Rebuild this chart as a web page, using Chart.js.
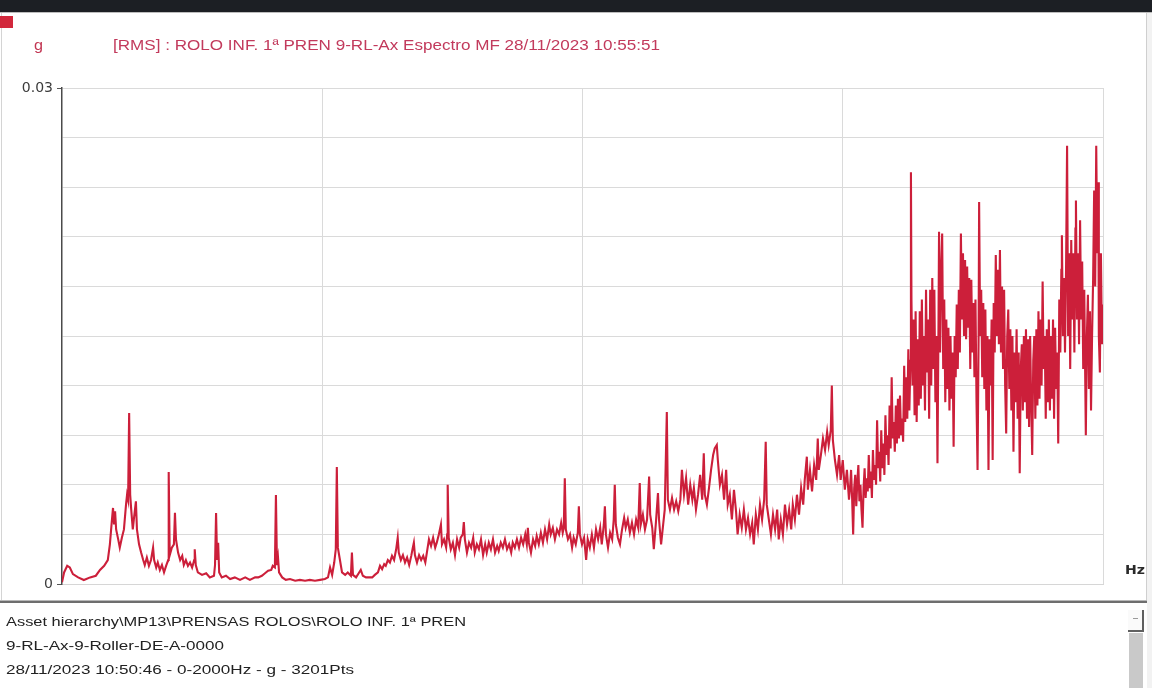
<!DOCTYPE html>
<html>
<head>
<meta charset="utf-8">
<script src="https://cdn.jsdelivr.net/npm/chart.js@4.4.0/dist/chart.umd.min.js"></script>
<style>
  html,body{margin:0;padding:0;}
  body{width:1152px;height:688px;position:relative;overflow:hidden;background:#ffffff;font-family:"Liberation Sans",Arial,sans-serif;}
  .abs{position:absolute;}
  .txt{position:absolute;white-space:nowrap;line-height:16px;font-size:13px;transform-origin:0 50%;}
  #chartWrap{position:absolute;left:0;top:0;width:1152px;height:688px;}
</style>
</head>
<body>
<div class="abs" style="left:0;top:0;width:1152px;height:12px;background:#1c1f24;"></div>
<div class="abs" style="left:0;top:12px;width:1152px;height:1px;background:#bdbdbd;"></div>
<div class="abs" style="left:1px;top:13px;width:1px;height:588px;background:#d4d4d4;"></div>
<div class="abs" style="left:0;top:16px;width:13px;height:12px;background:#d2283c;"></div>
<div class="abs" style="left:1146px;top:13px;width:1px;height:588px;background:#cfcfcf;"></div>
<div class="abs" style="left:1147px;top:13px;width:5px;height:675px;background:#f2f2f2;"></div>
<div class="abs" style="left:0;top:600px;width:1147px;height:1px;background:#b8b8b8;"></div>
<div class="abs" style="left:0;top:601px;width:1147px;height:2px;background:#6e6e6e;"></div>
<div class="abs" style="left:1128px;top:610px;width:16px;height:22px;box-sizing:border-box;border-right:2px solid #606060;border-bottom:2px solid #606060;background:#fafafa;"></div>
<div class="abs" style="left:1133px;top:618px;width:5px;height:1px;background:#9a9a9a;"></div>
<div class="abs" style="left:1129px;top:633px;width:14px;height:55px;background:#c9c9c9;"></div>

<div id="chartWrap"><canvas id="c" width="1152" height="688"></canvas></div>

<div class="txt" style="left:34px;top:37px;color:#c23552;font-size:14px;" data-w="9">g</div>
<div class="txt" style="left:113px;top:37px;color:#c23a5c;font-size:14px;" data-w="547">[RMS] : ROLO INF. 1ª PREN 9-RL-Ax Espectro MF 28/11/2023 10:55:51</div>
<div class="txt" style="left:1125px;top:562px;color:#2a2a2a;font-family:'DejaVu Sans';font-weight:bold;" data-w="20">Hz</div>
<div class="txt" style="left:6px;top:614px;color:#222222;" data-w="460">Asset hierarchy\MP13\PRENSAS ROLOS\ROLO INF. 1ª PREN</div>
<div class="txt" style="left:6px;top:638px;color:#222222;" data-w="218">9-RL-Ax-9-Roller-DE-A-0000</div>
<div class="txt" style="left:6px;top:662px;color:#222222;" data-w="348">28/11/2023 10:50:46 - 0-2000Hz - g - 3201Pts</div>

<script>
// ---- data ----
const xRangeHz = [0, 2000];
const yRangeG = [0, 0.03];
const yTickLabels = ['0', '0.03'];

const freqHz = [
  0,4,10,15,21,31,42,54,65,73,
  81,88,92,96,98,100,102,104,108,111,
  115,119,123,125,127,129,131,133,136,138,
  142,144,148,152,156,159,163,167,171,175,
  177,181,184,188,192,196,200,204,205,207,
  211,215,217,219,223,227,231,234,238,242,
  246,250,254,255,257,261,269,277,284,292,
  294,296,298,300,302,307,315,323,332,342,
  352,361,371,377,384,390,396,402,405,409,
  411,413,415,417,423,430,438,448,457,467,
  476,486,496,505,
  511,515,519,523,526,528,530,534,538,544,
  549,555,557,559,565,570,574,578,584,590,
  596,601,607,611,615,619,622,626,630,634,
  638,642,645,647,651,655,659,663,667,671,
  674,676,678,682,686,690,694,698,701,705,
  709,713,717,720,724,728,730,734,738,740,
  741,743,747,751,755,759,763,766,770,772,
  774,778,782,786,790,793,797,801,805,809,
  813,816,820,824,828,832,836,839,843,847,
  851,855,859,863,866,870,874,878,882,886,
  890,893,895,897,901,905,909,912,916,920,
  924,928,932,936,939,943,947,951,955,959,
  962,964,966,968,972,976,980,983,987,991,
  993,995,999,1003,1007,1010,1014,
  1018,1022,1026,1030,1034,1037,1041,1043,1045,1049,
  1053,1057,1060,1062,1064,1068,1072,1076,1080,1083,
  1087,1091,1095,1099,1103,1107,1110,1112,1116,1120,
  1124,1128,1130,1134,1137,1141,1145,1147,1151,1155,
  1158,1162,1164,1168,1172,1176,1180,1184,1188,1191,
  1195,1199,1203,1207,1211,1214,1218,1222,1226,1230,
  1233,1235,1239,1243,1247,1251,1254,1258,1260,1264,
  1268,1272,1276,1279,1283,1287,1291,1295,1298,1302,
  1306,1310,1314,1318,1322,1326,1329,1333,1337,1341,
  1345,1349,1352,1354,1358,1362,1366,1370,1374,1377,
  1381,1385,1389,1393,1397,1401,1404,1408,1412,1416,
  1420,1424,1427,1431,1433,1437,1441,1445,1449,1452,
  1454,1458,1462,1466,1470,1473,1477,1479,1481,1485,
  1489,1493,1496,1500,1504,1508,1512,
  1514,1516,1518,1520,1522,1524,1526,1528,1530,1532,
  1534,1536,1538,1540,1542,1544,1546,1548,1550,1552,
  1554,1556,1558,1560,1562,1564,1566,1568,1570,1572,
  1574,1576,1578,1580,1582,1584,1586,1588,1590,1592,
  1594,1596,1598,1600,1602,1604,1606,1608,1610,1612,
  1614,1616,1618,1620,1622,1624,1626,1628,1630,1631,
  1632,1634,1636,1638,1640,1642,1644,1646,1648,1650,
  1652,1654,1656,1658,1660,1662,1664,1666,1668,1670,
  1672,1674,1676,1678,1680,1682,1684,1685,1687,1689,
  1691,1693,1695,1697,1699,1701,1703,1705,1707,1709,
  1711,1713,1715,1717,1719,1721,1723,1725,1727,1729,
  1731,1733,1735,1737,1739,1741,1743,1745,1747,1749,
  1751,1753,1755,1757,1759,1761,1762,1764,1766,1768,
  1770,1772,1774,1776,1778,1780,1782,1784,1786,1788,
  1790,1792,1794,1796,1798,1800,1802,1804,1806,1808,
  1810,1812,1814,1816,1818,1820,1822,1824,1826,1828,
  1830,1832,1834,1836,1838,1840,1842,1844,1846,1848,
  1850,1852,1854,1856,1858,1860,1862,1864,1866,1868,
  1870,1872,1874,1876,1878,1880,1882,1884,1886,1888,
  1890,1892,1894,1896,1898,1900,1902,1904,1906,1908,
  1910,1912,1914,1916,1918,1920,1921,1923,1925,1927,
  1929,1931,1933,1935,1937,1939,1941,1943,1945,1947,
  1948,1950,1952,1954,1956,1958,1960,1962,1964,1966,
  1967,1969,1971,1973,1975,1977,1979,1981,1983,1985,
  1987,1989,1991,1992,1994,1996,1998,2000
];

const ampG = [
  0.0001,0.0007,0.0011,0.0010,0.0006,0.0004,0.00024,0.0004,0.0005,0.00085,
  0.0011,0.00145,0.0024,0.0039,0.0046,0.0036,0.0044,0.0033,0.0027,0.0022,
  0.0028,0.0033,0.0048,0.0054,0.0051,0.01034,0.0054,0.0045,0.0033,0.0039,
  0.0050,0.0033,0.0024,0.0019,0.00145,0.00115,0.0016,0.0011,0.00145,0.0022,
  0.00145,0.001,0.0013,0.00085,0.00115,0.0007,0.0011,0.00145,0.00677,0.00175,
  0.0022,0.0024,0.0043,0.0027,0.0019,0.00145,0.0017,0.00115,0.00145,0.0011,
  0.0013,0.001,0.00145,0.0021,0.00115,0.0007,0.00055,0.00065,0.0004,0.0005,
  0.00115,0.0043,0.00145,0.0025,0.0007,0.0004,0.0005,0.0003,0.0004,0.00025,
  0.0004,0.00025,0.0004,0.0004,0.0005,0.00065,0.0008,0.00085,0.0011,0.001,
  0.00538,0.00115,0.0016,0.0007,0.0004,0.00025,0.0003,0.0002,0.00025,0.0002,
  0.00025,0.0002,0.00025,0.0003,
  0.0004,0.001,0.00055,0.0013,0.0021,0.00708,0.0022,0.00145,0.0007,0.00055,
  0.0007,0.0005,0.0019,0.00055,0.0004,0.00065,0.00085,0.0005,0.0004,0.0004,
  0.0004,0.00055,0.0007,0.0011,0.0009,0.0012,0.0011,0.00145,0.0013,0.0017,
  0.00145,0.0021,0.0028,0.0019,0.00145,0.00175,0.0013,0.0016,0.00115,0.0017,
  0.0022,0.0025,0.00175,0.0013,0.00175,0.00145,0.0017,0.0013,0.0019,0.0027,
  0.0023,0.0028,0.0022,0.0025,0.003,0.0036,0.0024,0.0027,0.0022,0.003,
  0.006,0.0028,0.0021,0.0025,0.00175,0.0027,0.0022,0.0028,0.003,0.00375,
  0.0027,0.0019,0.0025,0.0022,0.0028,0.0019,0.0024,0.0021,0.0027,0.00175,
  0.0024,0.0019,0.0025,0.0021,0.0027,0.0019,0.0023,0.002,0.0025,0.0022,
  0.0027,0.0021,0.0024,0.0019,0.0025,0.0022,0.0027,0.0022,0.0028,0.0024,
  0.003,0.0024,0.0034,0.0025,0.0019,0.0027,0.0023,0.0029,0.0024,0.0031,
  0.0025,0.0033,0.0027,0.0036,0.003,0.0034,0.0027,0.0033,0.003,0.0037,
  0.0031,0.0034,0.0064,0.0033,0.0027,0.003,0.0022,0.0028,0.0024,0.0031,
  0.0047,0.003,0.0024,0.0028,0.00145,0.0027,0.0022,
  0.003,0.0022,0.0033,0.0027,0.0034,0.0024,0.0036,0.0047,0.003,0.0022,
  0.0031,0.0027,0.0039,0.006,0.0036,0.0028,0.0024,0.0033,0.004,0.0034,
  0.0039,0.0031,0.0037,0.003,0.0039,0.0034,0.0061,0.0036,0.0042,0.0033,
  0.0039,0.0065,0.0042,0.0034,0.0021,0.0037,0.0055,0.0039,0.0024,0.0036,
  0.0045,0.0104,0.0051,0.0045,0.0052,0.0045,0.005,0.0044,0.0051,0.0069,
  0.0054,0.0064,0.0048,0.006,0.0051,0.0058,0.0045,0.0054,0.0066,0.0051,
  0.0079,0.0054,0.0048,0.0058,0.0069,0.0078,0.0082,0.0084,0.0075,0.006,
  0.0066,0.0051,0.0069,0.0048,0.0054,0.0039,0.0057,0.0044,0.003,0.0042,
  0.0034,0.0045,0.0033,0.004,0.003,0.0037,0.0024,0.0042,0.0033,0.0048,
  0.0039,0.0051,0.0086,0.0048,0.0039,0.003,0.0042,0.0033,0.0045,0.0027,
  0.0039,0.003,0.0048,0.0036,0.0045,0.0033,0.0048,0.0039,0.0054,0.0042,
  0.0058,0.0048,0.0063,0.0077,0.0057,0.0069,0.0056,0.0072,0.0063,0.0088,
  0.0069,0.0078,0.0088,0.0081,0.0092,0.0084,0.0093,0.012,0.0087,0.0075,
  0.0066,0.0078,0.0063,0.0075,0.0057,0.0069,0.0051,
  0.0058,0.0069,0.0052,0.003,0.0058,0.0066,0.0047,0.0062,0.0072,0.005,
  0.006,0.0045,0.0034,0.0058,0.007,0.0052,0.0064,0.0056,0.0078,0.0058,
  0.0068,0.0052,0.0081,0.0063,0.0072,0.006,0.0099,0.007,0.008,0.0062,
  0.0093,0.007,0.0085,0.0066,0.0102,0.0078,0.009,0.0072,0.0108,0.0082,
  0.0125,0.0088,0.0098,0.008,0.0108,0.0085,0.0112,0.0088,0.0114,0.009,
  0.01,0.0086,0.0132,0.0098,0.0125,0.01,0.0142,0.0105,0.0135,0.0249,
  0.0172,0.012,0.016,0.0102,0.0165,0.0098,0.0148,0.0108,0.0165,0.0112,
  0.0172,0.012,0.015,0.0105,0.0178,0.0128,0.016,0.01,0.0178,0.012,
  0.0185,0.013,0.0178,0.011,0.015,0.0073,0.016,0.0213,0.014,0.019,
  0.0212,0.013,0.0172,0.011,0.016,0.0118,0.0155,0.0105,0.015,0.0112,
  0.014,0.0083,0.015,0.0125,0.0169,0.013,0.0178,0.014,0.0212,0.016,
  0.02,0.015,0.0196,0.0148,0.0192,0.0155,0.0185,0.013,0.0184,0.014,
  0.017,0.0125,0.0172,0.011,0.0069,0.015,0.0231,0.015,0.0178,0.0125,
  0.017,0.0118,0.0166,0.0105,0.015,0.0069,0.0148,0.012,0.016,0.0075,
  0.017,0.014,0.0199,0.015,0.019,0.0145,0.0202,0.014,0.018,0.013,
  0.0178,0.012,0.0091,0.015,0.0166,0.0118,0.0154,0.0105,0.015,0.008,
  0.014,0.011,0.0154,0.01,0.014,0.0067,0.013,0.0145,0.0105,0.015,
  0.011,0.0154,0.01,0.0148,0.0095,0.015,0.011,0.0078,0.0135,0.015,
  0.01,0.0154,0.0108,0.0165,0.0112,0.016,0.012,0.0183,0.013,0.015,
  0.01,0.0154,0.011,0.016,0.0105,0.015,0.0112,0.016,0.01,0.0155,
  0.0118,0.014,0.0085,0.0172,0.014,0.019,0.0211,0.015,0.0185,0.014,
  0.019,0.0265,0.015,0.02,0.013,0.0208,0.016,0.02,0.014,0.0215,
  0.0232,0.016,0.02,0.0145,0.022,0.016,0.0195,0.013,0.0178,0.012,
  0.009,0.015,0.0175,0.0118,0.0165,0.0105,0.015,0.0184,0.0238,0.018,
  0.0265,0.02,0.0243,0.015,0.0128,0.02,0.0145,0.0169
];

const points = freqHz.map((f, i) => ({ x: f, y: ampG[i] }));

new Chart(document.getElementById('c'), {
  type: 'line',
  data: {
    datasets: [{
      data: points,
      borderColor: '#cc1f3a',
      borderWidth: 2.1,
      pointRadius: 0,
      tension: 0,
      fill: false
    }]
  },
  options: {
    responsive: false,
    animation: false,
    devicePixelRatio: 1,
    layout: { padding: { left: 0, top: 88, right: 49, bottom: 104 } },
    plugins: { legend: { display: false }, tooltip: { enabled: false }, title: { display: false } },
    scales: {
      x: {
        type: 'linear',
        min: xRangeHz[0], max: xRangeHz[1],
        ticks: { display: false, stepSize: 500 },
        grid: {
          drawTicks: false,
          color: (c) => (c.tick && c.tick.value === 0) ? 'rgba(0,0,0,0)' : '#dadada',
          lineWidth: 1
        },
        border: { color: '#d6d6d6', width: 1 },
        afterFit: (s) => { s.height = 0; }
      },
      y: {
        min: yRangeG[0], max: yRangeG[1],
        ticks: {
          stepSize: 0.003,
          autoSkip: false,
          padding: 4,
          color: '#3c3c3c',
          font: { family: 'DejaVu Sans', size: 14 },
          callback: (v) => {
            if (Math.abs(v - yRangeG[0]) < 1e-9) return yTickLabels[0];
            if (Math.abs(v - yRangeG[1]) < 1e-9) return yTickLabels[1];
            return '';
          }
        },
        grid: {
          color: '#dadada',
          tickLength: 5,
          tickColor: (c) => {
            const v = c.tick ? c.tick.value : null;
            return (v !== null && (Math.abs(v) < 1e-9 || Math.abs(v - 0.03) < 1e-9)) ? '#555555' : 'rgba(0,0,0,0)';
          }
        },
        border: { color: '#4a4a4a', width: 1.5 },
        afterFit: (s) => { s.width = 62; }
      }
    }
  }
});

// fit real-text labels to the widths seen in the reference
document.querySelectorAll('.txt').forEach(el => {
  const target = parseFloat(el.dataset.w);
  const w = el.getBoundingClientRect().width;
  if (w > 0 && target > 0) el.style.transform = 'scaleX(' + (target / w).toFixed(4) + ')';
});
</script>
</body>
</html>
